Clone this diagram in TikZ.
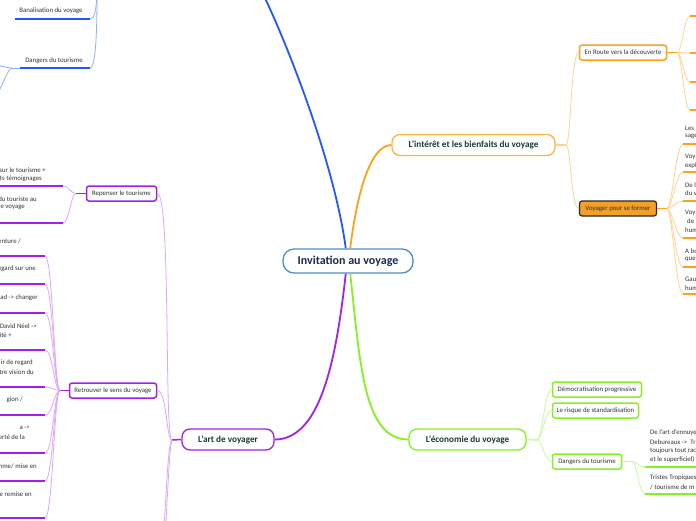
\documentclass[tikz,border=0pt]{standalone}
\usepackage{fontspec}
\setmainfont{Carlito}
\definecolor{blueM}{HTML}{2456FF}
\definecolor{blueL}{HTML}{8FAEFF}
\definecolor{orangeM}{HTML}{FFA21A}
\definecolor{orangeN}{HTML}{FFB440}
\definecolor{orangeL}{HTML}{FFD394}
\definecolor{orangeF}{HTML}{F2A027}
\definecolor{purpleM}{HTML}{A21FF0}
\definecolor{purpleL}{HTML}{DCA8FB}
\definecolor{greenM}{HTML}{84F21E}
\definecolor{greenL}{HTML}{C9FA9A}
\definecolor{ctrB}{HTML}{4A90D0}
\definecolor{navy}{HTML}{1A2B50}
\definecolor{dgreen}{HTML}{123E30}
\definecolor{txt}{HTML}{333333}
\begin{document}
\begin{tikzpicture}[x=1pt,y=-1pt,
  every node/.style={font=\fontsize{6.8}{8}\selectfont, text=txt},
  mainline/.style={line width=1.8},
  thinline/.style={line width=0.8},
  stubline/.style={line width=1.5},
  leafline/.style={line width=1.5},
  lone/.style={draw, line width=1.3, rounded corners=8, minimum height=21, inner sep=0,
    font=\bfseries\fontsize{9.2}{11}\selectfont, text=dgreen, fill=white},
  subnode/.style={draw, line width=1.5, rounded corners=2.5, minimum height=15,
    inner xsep=2, inner ysep=0, fill=white},
  frag/.style={inner sep=0}]
\useasboundingbox (0,0) rectangle (696,520);
\clip (0,0) rectangle (696,520);

% ---------- nodes ----------
\node[draw=ctrB, line width=1.3, rounded corners=11, minimum width=130, minimum height=24,
  font=\bfseries\fontsize{12}{14}\selectfont, text=navy, fill=white] (root) at (348,261) {Invitation au voyage};

\node[lone, draw=orangeN, minimum width=163] (interet) at (473.5,145) {L'intérêt et les bienfaits du voyage};
\node[subnode, draw=orangeM, minimum width=87] (enroute) at (623,52.5) {En Route vers la découverte};
\node[subnode, draw=black!85, fill=orangeF, line width=1.2, minimum width=77] (former) at (618,208.5) {Voyager pour se former};

\node[lone, draw=purpleM, minimum width=92] (art) at (228,439.5) {L'art de voyager};
\node[subnode, draw=purpleM, minimum width=70] (repenser) at (121.5,193.5) {Repenser le tourisme};
\node[subnode, draw=purpleM, minimum width=87] (retrouver) at (113,390.5) {Retrouver le sens du voyage};

\node[lone, draw=greenM, minimum width=117] (eco) at (467.5,439.5) {L'économie du voyage};
\node[subnode, draw=greenM, minimum width=89] (demo) at (597,389.5) {Démocratisation progressive};
\node[subnode, draw=greenM, minimum width=86] (risque) at (595.5,410.5) {Le risque de standardisation};
\node[subnode, draw=greenM, minimum width=69] (dangG) at (587,461.5) {Dangers du tourisme};

\node[frag] (banaT) at (51,11) {Banalisation du voyage};
\node[frag] (dangBT) at (54,61) {Dangers du tourisme};

% ---------- coordinates ----------
\coordinate (blueTop) at (262,-8);
\coordinate (jBlue) at (97,-40);
\coordinate (banaL) at (15,19);
\coordinate (banaR) at (90,19);
\coordinate (dangBL) at (20,68);
\coordinate (dangBR) at (90,68);
\coordinate (jDB) at (12,68);
\coordinate (dbc1) at (-8,65);
\coordinate (dbc2) at (-8,100);

\coordinate (jI) at (566,145);
\coordinate (jN) at (677,52.5);
\coordinate (jF) at (667,208.5);
\coordinate (jA) at (172,440);
\coordinate (artDown1) at (157,575);
\coordinate (artDown2) at (155,640);
\coordinate (jR) at (76,193.5);
\coordinate (jT) at (60,390.5);
\coordinate (jE) at (537,440);
\coordinate (jD) at (632,461.5);

% ---------- main branches ----------
\draw[mainline, blueM] (root.100) .. controls +(-12,-90) and +(20,40) .. (blueTop);
\draw[mainline, orangeM] (root.80) .. controls +(6,-50) and +(-22,0) .. (interet.west);
\draw[mainline, purpleM] (root.260) .. controls +(-10,90) and +(45,0) .. (art.east);
\draw[mainline, greenM] (root.280) .. controls +(10,90) and +(-45,0) .. (eco.west);

% ---------- blue (top left) ----------
\draw[thinline, blueL] (jBlue) .. controls +(0,30) and +(8,0) .. (banaR);
\draw[thinline, blueL] (jBlue) .. controls +(0,40) and +(8,0) .. (dangBR);
\draw[leafline, blueM] (banaL) -- (banaR);
\draw[leafline, blueM] (dangBL) -- (dangBR);
\draw[thinline, blueL] (dangBL) -- (jDB);
\draw[thinline, blueL] (jDB) .. controls +(-4,0) and +(6,0) .. (dbc1);
\draw[thinline, blueL] (jDB) .. controls +(-5,0) and +(6,0) .. (dbc2);

% ---------- orange ----------
\draw[stubline, orangeL] (interet.east) -- (jI);
\draw[thinline, orangeL] (jI) .. controls +(5,0) and +(-8,0) .. (enroute.west);
\draw[thinline, orangeL] (jI) .. controls +(5,0) and +(-8,0) .. (former.west);

\draw[stubline, orangeM] (enroute.east) -- (jN);
\foreach \y [count=\i] in {16,53,82,110}{
  \coordinate (en\i) at (690,\y);
  \coordinate (enR\i) at (700,\y);
  \draw[thinline, orangeL] (jN) .. controls +(5,0) and +(-6,0) .. (en\i);
  \draw[leafline, orangeM] (en\i) -- (enR\i);
}
\draw[stubline, orangeM] (former.east) -- (jF);
\foreach \y [count=\i] in {144,172,201,238,267,294}{
  \coordinate (fo\i) at (683,\y);
  \coordinate (foR\i) at (700,\y);
  \draw[thinline, orangeL] (jF) .. controls +(5,0) and +(-7,0) .. (fo\i);
  \draw[leafline, orangeM] (fo\i) -- (foR\i);
}
\node[frag, anchor=west] (f1a) at (685,128) {Les};
\node[frag, anchor=west] (f1b) at (685,136.5) {sage};
\node[frag, anchor=west] (f2a) at (685,157) {Voy};
\node[frag, anchor=west] (f2b) at (685,165.5) {expl};
\node[frag, anchor=west] (f3a) at (685,185) {De l};
\node[frag, anchor=west] (f3b) at (685,193.5) {du v};
\node[frag, anchor=west] (f4a) at (685,213) {Voy};
\node[frag, anchor=west] (f4b) at (687,221.5) {de '};
\node[frag, anchor=west] (f4c) at (685,230) {hum};
\node[frag, anchor=west] (f5a) at (685,251) {A bo};
\node[frag, anchor=west] (f5b) at (685,259.5) {que};
\node[frag, anchor=west] (f6a) at (685,279.5) {Gau};
\node[frag, anchor=west] (f6b) at (685,288) {hum};

% ---------- purple ----------
\draw[stubline, purpleM] (art.west) -- (jA);
\draw[thinline, purpleL] (jA) .. controls +(-8,0) and +(14,0) .. (repenser.east);
\draw[thinline, purpleL] (jA) .. controls +(-6,0) and +(10,0) .. (retrouver.east);
\draw[thinline, purpleL] (jA) .. controls +(-6,0) and +(8,0) .. (artDown1);
\draw[thinline, purpleL] (jA) .. controls +(-4,0) and +(8,0) .. (artDown2);

\draw[stubline, purpleM] (repenser.west) -- (jR);
\coordinate (rp1) at (63,186); \coordinate (rp1L) at (-5,186);
\coordinate (rp2) at (63,223); \coordinate (rp2L) at (-5,223);
\draw[thinline, purpleL] (jR) .. controls +(-5,0) and +(6,0) .. (rp1);
\draw[thinline, purpleL] (jR) .. controls +(-5,0) and +(6,0) .. (rp2);
\draw[leafline, purpleM] (rp1) -- (rp1L);
\draw[leafline, purpleM] (rp2) -- (rp2L);

\draw[stubline, purpleM] (retrouver.west) -- (jT);
\foreach \y [count=\i] in {256,284,313,350,387,415,453,481,518}{
  \coordinate (rt\i) at (45,\y);
  \coordinate (rtL\i) at (-5,\y);
  \draw[thinline, purpleL] (jT) .. controls +(-6,0) and +(8,0) .. (rt\i);
  \draw[leafline, purpleM] (rt\i) -- (rtL\i);
}

\node[frag, anchor=east] (p1) at (46,170) {sur le tourisme +};
\node[frag, anchor=east] (p2) at (42,179) {ts témoignages};
\node[frag, anchor=east] (p3) at (37,199) {du touriste au};
\node[frag, anchor=east] (p4) at (25,207.5) {e voyage};
\node[frag, anchor=east] (p5) at (21,241) {enture /};
\node[frag, anchor=east] (p6) at (36,269) {egard sur une};
\node[frag, anchor=east] (p7) at (38,298) {ad -> changer};
\node[frag, anchor=east] (p8) at (37,326) {David Néel ->};
\node[frag, anchor=east] (p9) at (12,335) {ité +};
\node[frag, anchor=east] (p10) at (33,363) {ir de regard};
\node[frag, anchor=east] (p11) at (34,372) {tre vision du};
\node[frag, anchor=east] (p12) at (23,400) {gion /};
\node[frag, anchor=east] (p13) at (30,428) {a ->};
\node[frag, anchor=east] (p14) at (25,437) {erté de la};
\node[frag, anchor=east] (p15) at (37,466) {mme/ mise en};
\node[frag, anchor=east] (p16) at (32,494) {e remise en};

% ---------- green ----------
\draw[stubline, greenL] (eco.east) -- (jE);
\draw[thinline, greenL] (jE) .. controls +(5,0) and +(-7,0) .. (demo.west);
\draw[thinline, greenL] (jE) .. controls +(5,0) and +(-7,0) .. (risque.west);
\draw[thinline, greenL] (jE) .. controls +(5,0) and +(-7,0) .. (dangG.west);

\draw[stubline, greenL] (dangG.east) -- (jD);
\coordinate (gd1) at (645,467); \coordinate (gd1R) at (700,467);
\coordinate (gd2) at (645,494); \coordinate (gd2R) at (700,494);
\draw[thinline, greenL] (jD) .. controls +(5,0) and +(-6,0) .. (gd1);
\draw[thinline, greenL] (jD) .. controls +(5,0) and +(-6,0) .. (gd2);
\draw[leafline, greenM] (gd1) -- (gd1R);
\draw[leafline, greenM] (gd2) -- (gd2R);

\node[frag, anchor=west] (g1) at (650,433) {De l'art d'ennuyer};
\node[frag, anchor=west] (g2) at (650,442) {Debureaux ->\ \ Tr};
\node[frag, anchor=west] (g3) at (650,451) {toujours tout rac};
\node[frag, anchor=west] (g4) at (650,459.5) {et le superficiel)};
\node[frag, anchor=west] (g5) at (650,478) {Tristes Tropiques};
\node[frag, anchor=west] (g6) at (650,487) {/ tourisme de m};
\end{tikzpicture}
\end{document}
